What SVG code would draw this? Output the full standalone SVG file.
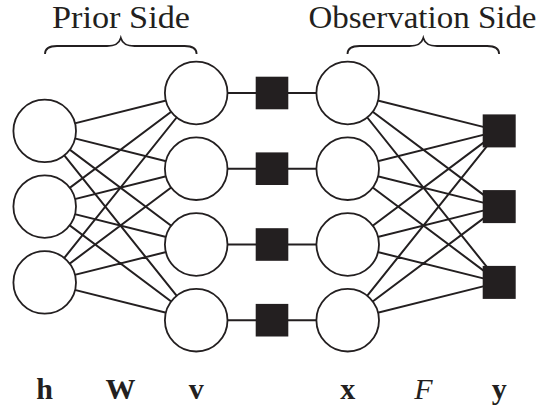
<svg xmlns="http://www.w3.org/2000/svg" width="539" height="412" viewBox="0 0 539 412">
<style>
.e{stroke:#231f20;stroke-width:2;fill:none}
.c{fill:#fff;stroke:#231f20;stroke-width:1.8}
.s{fill:#231f20}
.t{font-family:"Liberation Serif",serif;font-size:32px;fill:#231f20}
.l{font-family:"Liberation Serif",serif;font-size:30px;font-weight:bold;fill:#231f20;text-anchor:middle}
.i{font-weight:normal;font-style:italic}
.b{stroke:#231f20;stroke-width:1.8;fill:none}
</style>
<rect width="539" height="412" fill="#fff"/>
<g id="titles">
<text class="t" x="52" y="28" textLength="138" lengthAdjust="spacingAndGlyphs">Prior Side</text>
<text class="t" x="308.5" y="28" textLength="228" lengthAdjust="spacingAndGlyphs">Observation Side</text>
<path class="b" d="M45,54 C45,49 49,46 57,46 L107,46 C115,46 119,44 120.8,38 C122.6,44 126.6,46 134.6,46 L184.6,46 C192.6,46 196.6,49 196.6,54"/>
<path class="b" d="M347.5,54 C347.5,49 351.5,46 359.5,46 L409.5,46 C417.5,46 421.5,44 423.3,38 C425.1,44 429.1,46 437.1,46 L487.1,46 C495.1,46 499.1,49 499.1,54"/>
</g>
<g id="connectors">
<path class="e" d="M44.7,130.9L196.2,93M44.7,130.9L196.2,168.7M44.7,130.9L196.2,244.5M44.7,130.9L196.2,320.2
M44.7,206.6L196.2,93M44.7,206.6L196.2,168.7M44.7,206.6L196.2,244.5M44.7,206.6L196.2,320.2
M44.7,282.4L196.2,93M44.7,282.4L196.2,168.7M44.7,282.4L196.2,244.5M44.7,282.4L196.2,320.2
M196.2,93H347.7M196.2,168.7H347.7M196.2,244.5H347.7M196.2,320.2H347.7
M347.7,93L499.2,130.9M347.7,93L499.2,206.6M347.7,93L499.2,282.4
M347.7,168.7L499.2,130.9M347.7,168.7L499.2,206.6M347.7,168.7L499.2,282.4
M347.7,244.5L499.2,130.9M347.7,244.5L499.2,206.6M347.7,244.5L499.2,282.4
M347.7,320.2L499.2,130.9M347.7,320.2L499.2,206.6M347.7,320.2L499.2,282.4"/>
</g>
<g id="h1"><circle class="c" cx="44.7" cy="130.9" r="31.3"/></g>
<g id="h2"><circle class="c" cx="44.7" cy="206.6" r="31.3"/></g>
<g id="h3"><circle class="c" cx="44.7" cy="282.4" r="31.3"/></g>
<g id="v1"><circle class="c" cx="196.2" cy="93" r="31.3"/></g>
<g id="v2"><circle class="c" cx="196.2" cy="168.7" r="31.3"/></g>
<g id="v3"><circle class="c" cx="196.2" cy="244.5" r="31.3"/></g>
<g id="v4"><circle class="c" cx="196.2" cy="320.2" r="31.3"/></g>
<g id="f1"><rect class="s" x="255.7" y="76.7" width="32.6" height="32.6"/></g>
<g id="f2"><rect class="s" x="255.7" y="152.4" width="32.6" height="32.6"/></g>
<g id="f3"><rect class="s" x="255.7" y="228.2" width="32.6" height="32.6"/></g>
<g id="f4"><rect class="s" x="255.7" y="303.9" width="32.6" height="32.6"/></g>
<g id="x1"><circle class="c" cx="347.7" cy="93" r="31.3"/></g>
<g id="x2"><circle class="c" cx="347.7" cy="168.7" r="31.3"/></g>
<g id="x3"><circle class="c" cx="347.7" cy="244.5" r="31.3"/></g>
<g id="x4"><circle class="c" cx="347.7" cy="320.2" r="31.3"/></g>
<g id="y1"><rect class="s" x="482.7" y="114.4" width="33" height="33"/></g>
<g id="y2"><rect class="s" x="482.7" y="190.1" width="33" height="33"/></g>
<g id="y3"><rect class="s" x="482.7" y="265.9" width="33" height="33"/></g>
<g id="labels">
<text class="l" x="44.7" y="399">h</text>
<text class="l" x="120.5" y="399">W</text>
<text class="l" x="196.2" y="399">v</text>
<text class="l" x="347.7" y="399">x</text>
<text class="l i" x="423.5" y="399">F</text>
<text class="l" x="499.2" y="399">y</text>
</g>
</svg>
